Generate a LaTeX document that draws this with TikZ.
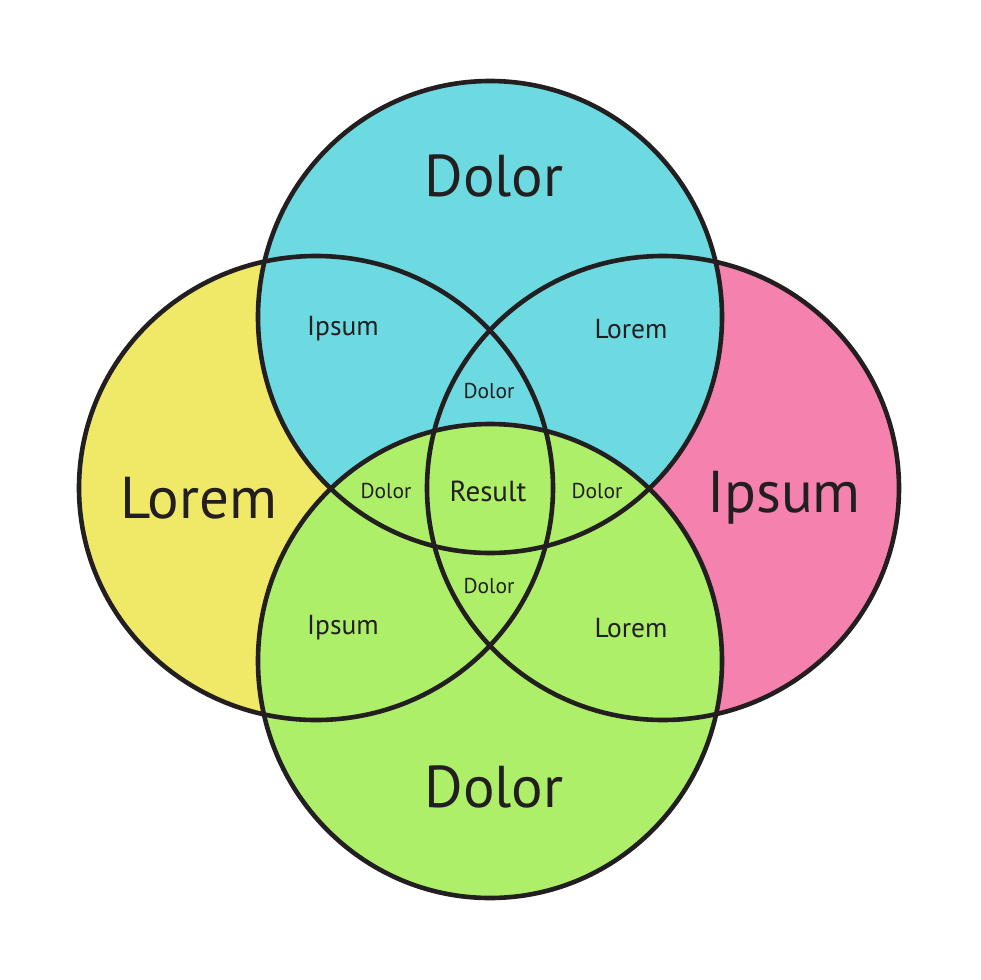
\documentclass[tikz,border=0pt]{standalone}
\usepackage{fontspec}
\setmainfont{PT Sans}
\usepackage{tikz}
\definecolor{VennCyan}{HTML}{6DD9E1}
\definecolor{VennYellow}{HTML}{F0E967}
\definecolor{VennPink}{HTML}{F582AE}
\definecolor{VennGreen}{HTML}{AEEF6A}
\definecolor{VennLine}{HTML}{231F20}
\tikzset{
  anillo/.style  = {draw=VennLine, line width=4.6pt},
  grande/.style  = {font=\fontsize{59}{61}\selectfont, text=VennLine, inner sep=0pt},
  medio/.style   = {font=\fontsize{27.5}{29}\selectfont, text=VennLine, inner sep=0pt},
  chico/.style   = {font=\fontsize{21.5}{23}\selectfont, text=VennLine, inner sep=0pt},
}

\begin{document}
\begin{tikzpicture}[x=1pt,y=-1pt]
  \useasboundingbox (0,0) rectangle (980,980);
  % rellenos, de abajo hacia arriba
  \fill[VennYellow] (316,488) ellipse [x radius=237, y radius=232];
  \fill[VennPink]   (663,488) ellipse [x radius=236, y radius=232];
  \fill[VennCyan]   (490,317) ellipse [x radius=232, y radius=236];
  \fill[VennGreen]  (490,661) ellipse [x radius=232, y radius=237];
  % contornos encima de todo
  \draw[anillo] (316,488) ellipse [x radius=237, y radius=232];
  \draw[anillo] (663,488) ellipse [x radius=236, y radius=232];
  \draw[anillo] (490,317) ellipse [x radius=232, y radius=236];
  \draw[anillo] (490,661) ellipse [x radius=232, y radius=237];
  % textos
  \node[grande] (dolorArr) at (494,176) {Dolor};
  \node[grande] (loremIzq) at (199,498) {Lorem};
  \node[grande] (ipsumDer) at (784,498) {Ipsum};
  \node[grande] (dolorAba) at (494,787) {Dolor};
  \node[medio]  (ipsumAI)  at (343,329) {Ipsum};
  \node[medio]  (loremAD)  at (631,329) {Lorem};
  \node[medio,font=\fontsize{29}{31}\selectfont] (result) at (488,491) {Result};
  \node[medio]  (ipsumBI)  at (343,628) {Ipsum};
  \node[medio]  (loremBD)  at (631,628) {Lorem};
  \node[chico]  (dolorC1)  at (489,391) {Dolor};
  \node[chico]  (dolorC2)  at (386,491) {Dolor};
  \node[chico]  (dolorC3)  at (597,491) {Dolor};
  \node[chico]  (dolorC4)  at (489,586) {Dolor};
\end{tikzpicture}
\end{document}
